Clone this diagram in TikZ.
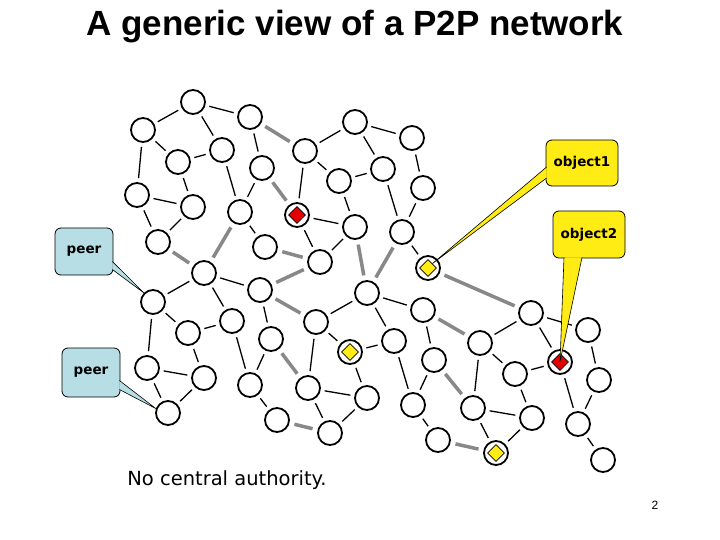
\documentclass[tikz,border=0pt]{standalone}
\usepackage{fontspec}
\setmainfont{Liberation Sans}
\newfontfamily\comicfont{DejaVu Sans}
\usetikzlibrary{shapes.geometric, calc}
\definecolor{peerblue}{RGB}{183,222,228}
\definecolor{objyellow}{RGB}{255,236,20}
\definecolor{objred}{RGB}{228,0,0}
\definecolor{trunkgray}{RGB}{136,136,136}
\tikzset{peer/.style={ % one machine of the network
            circle, draw, line width=1.8pt,
            fill=white, inner sep=0pt,
            minimum size=24pt},
        link/.style={ % ordinary connection
            draw, line width=1.3pt,
            shorten >=4pt, shorten <=4pt},
        trunk/.style={ % thick grey connection
            draw=trunkgray, line width=3.5pt,
            shorten >=5pt, shorten <=5pt},
        obj/.style={ % stored object
            diamond, draw, line width=0.6pt,
            inner sep=0pt, aspect=1,
            minimum size=17pt},
        callbox/.style={ % rounded label box
            draw, line width=0.8pt, rounded corners=6pt,
            font=\comicfont\bfseries\fontsize{13.5}{15}\selectfont}
        }
\begin{document}
\begin{tikzpicture}[x=1pt, y=-1pt]
    \useasboundingbox (0,0) rectangle (720,540);

    \node (title) at (355,27) {\bfseries\fontsize{35}{40}\selectfont A generic view of a P2P network};

    % peers
    \node[peer] (p1) at (193,102) {};
    \node[peer] (p2) at (143,130) {};
    \node[peer] (p3) at (250,117) {};
    \node[peer] (p4) at (222,150) {};
    \node[peer] (p5) at (178,162) {};
    \node[peer] (p6) at (262,168) {};
    \node[peer] (p7) at (137,195) {};
    \node[peer] (p8) at (193,207) {};
    \node[peer] (p9) at (240,212) {};
    \node[peer] (p10) at (297,215) {};
    \node[peer] (p11) at (158,242) {};
    \node[peer] (p12) at (265,247) {};
    \node[peer] (p13) at (320,262) {};
    \node[peer] (p14) at (204,273) {};
    \node[peer] (p15) at (305,151) {};
    \node[peer] (p16) at (355,122) {};
    \node[peer] (p17) at (412,138) {};
    \node[peer] (p18) at (383,169) {};
    \node[peer] (p19) at (339,181) {};
    \node[peer] (p20) at (423,188) {};
    \node[peer] (p21) at (355,227) {};
    \node[peer] (p22) at (402,232) {};
    \node[peer] (p23) at (428,268) {};
    \node[peer] (p24) at (153,302) {};
    \node[peer] (p25) at (260,290) {};
    \node[peer] (p26) at (188,333) {};
    \node[peer] (p27) at (232,321) {};
    \node[peer] (p28) at (316,322) {};
    \node[peer] (p29) at (271,339) {};
    \node[peer] (p30) at (147,368) {};
    \node[peer] (p31) at (204,378) {};
    \node[peer] (p32) at (168,413) {};
    \node[peer] (p33) at (250,385) {};
    \node[peer] (p34) at (308,388) {};
    \node[peer] (p35) at (350,352) {};
    \node[peer] (p36) at (367,293) {};
    \node[peer] (p37) at (277,420) {};
    \node[peer] (p38) at (330,433) {};
    \node[peer] (p39) at (423,310) {};
    \node[peer] (p40) at (394,341) {};
    \node[peer] (p41) at (434,360) {};
    \node[peer] (p42) at (480,343) {};
    \node[peer] (p43) at (531,313) {};
    \node[peer] (p44) at (560,362) {};
    \node[peer] (p45) at (588,330) {};
    \node[peer] (p46) at (515,374) {};
    \node[peer] (p47) at (599,380) {};
    \node[peer] (p48) at (367,398) {};
    \node[peer] (p49) at (413,405) {};
    \node[peer] (p50) at (473,408) {};
    \node[peer] (p51) at (532,418) {};
    \node[peer] (p52) at (578,424) {};
    \node[peer] (p53) at (438,440) {};
    \node[peer] (p54) at (496,453) {};
    \node[peer] (p55) at (603,460) {};

    % connections
    \path (p1) edge[link] (p2) edge[link] (p3) edge[link] (p4);
    \path (p2) edge[link] (p5) edge[link] (p7);
    \path (p5) edge[link] (p4) edge[link] (p8);
    \path (p7) edge[link] (p8) edge[link] (p11);
    \path (p4) edge[link] (p9);
    \path (p6) edge[link] (p3) edge[link] (p9);
    \path (p8) edge[link] (p11);
    \path (p9) edge[link] (p12);
    \path (p10) edge[link] (p15) edge[link] (p13) edge[link] (p21);
    \path (p15) edge[link] (p16) edge[link] (p19);
    \path (p16) edge[link] (p17) edge[link] (p18);
    \path (p19) edge[link] (p18) edge[link] (p21);
    \path (p20) edge[link] (p17) edge[link] (p22);
    \path (p22) edge[link] (p18) edge[link] (p23);
    \path (p21) edge[link] (p13);
    \path (p14) edge[link] (p24) edge[link] (p25) edge[link] (p27);
    \path (p24) edge[link] (p26) edge[link] (p30);
    \path (p26) edge[link] (p27) edge[link] (p31);
    \path (p30) edge[link] (p31) edge[link] (p32);
    \path (p31) edge[link] (p32);
    \path (p33) edge[link] (p27) edge[link] (p29) edge[link] (p37);
    \path (p29) edge[link] (p25);
    \path (p28) edge[link] (p36) edge[link] (p35) edge[link] (p34);
    \path (p34) edge[link] (p38) edge[link] (p48);
    \path (p48) edge[link] (p35) edge[link] (p38);
    \path (p36) edge[link] (p39) edge[link] (p40);
    \path (p40) edge[link] (p35) edge[link] (p49);
    \path (p41) edge[link] (p39) edge[link] (p49);
    \path (p49) edge[link] (p53);
    \path (p43) edge[link] (p42) edge[link] (p44) edge[link] (p45);
    \path (p42) edge[link] (p46) edge[link] (p50);
    \path (p46) edge[link] (p44) edge[link] (p51);
    \path (p47) edge[link] (p45) edge[link] (p52);
    \path (p52) edge[link] (p44) edge[link] (p55);
    \path (p54) edge[link] (p50) edge[link] (p51);
    \path (p50) edge[link] (p51);

    \path (p3) edge[trunk] (p15);
    \path (p6) edge[trunk] (p10);
    \path (p14) edge[trunk] (p11) edge[trunk] (p9);
    \path (p13) edge[trunk] (p12) edge[trunk] (p25);
    \path (p36) edge[trunk] (p21) edge[trunk] (p22);
    \path (p25) edge[trunk] (p28);
    \path (p29) edge[trunk] (p34);
    \path (p37) edge[trunk] (p38);
    \path (p39) edge[trunk] (p42);
    \path (p23) edge[trunk] (p43);
    \path (p41) edge[trunk] (p50);
    \path (p53) edge[trunk] (p54);

    % objects
    \node[obj, fill=objyellow] (o1) at (p23) {};
    \node[obj, fill=objred] (o2) at (p44) {};
    \node[obj, fill=objred] (o3) at (p10) {};
    \node[obj, fill=objyellow] (o4) at (p35) {};
    \node[obj, fill=objyellow] (o5) at (p54) {};

    % callouts
    \node[callbox, fill=peerblue, minimum width=58pt, minimum height=47pt] (cb1) at (84,251.5) {peer};
    \node[callbox, fill=peerblue, minimum width=58pt, minimum height=49pt] (cb2) at (91,372.5) {peer};
    \node[callbox, fill=objyellow, minimum width=72pt, minimum height=46pt] (cb3) at (582,163) {object1};
    \node[callbox, fill=objyellow, minimum width=72pt, minimum height=47pt] (cb4) at (589,234.5) {object2};
    \filldraw[fill=peerblue, line width=0.6pt] ($(cb1.east)+(-1,10)$) -- (p24.135) -- ($(cb1.east)+(-1,18)$);
    \filldraw[fill=peerblue, line width=0.6pt] ($(cb2.east)+(-1,8)$) -- (p32.160) -- ($(cb2.east)+(-1,17)$);
    \filldraw[fill=objyellow, line width=0.6pt] ($(cb3.west)+(1,4)$) -- (o1.north east) -- ($(cb3.west)+(1,15)$);
    \filldraw[fill=objyellow, line width=0.6pt] ($(cb4.south)+(-25,-1)$) -- (o2.center) -- ($(cb4.south)+(-7,-1)$);

    \node (note) at (227,480) {\comicfont\fontsize{19.5}{23}\selectfont No central authority.};
    \node (pagenum) at (655,505) {\fontsize{12}{14}\selectfont 2};
\end{tikzpicture}
\end{document}
